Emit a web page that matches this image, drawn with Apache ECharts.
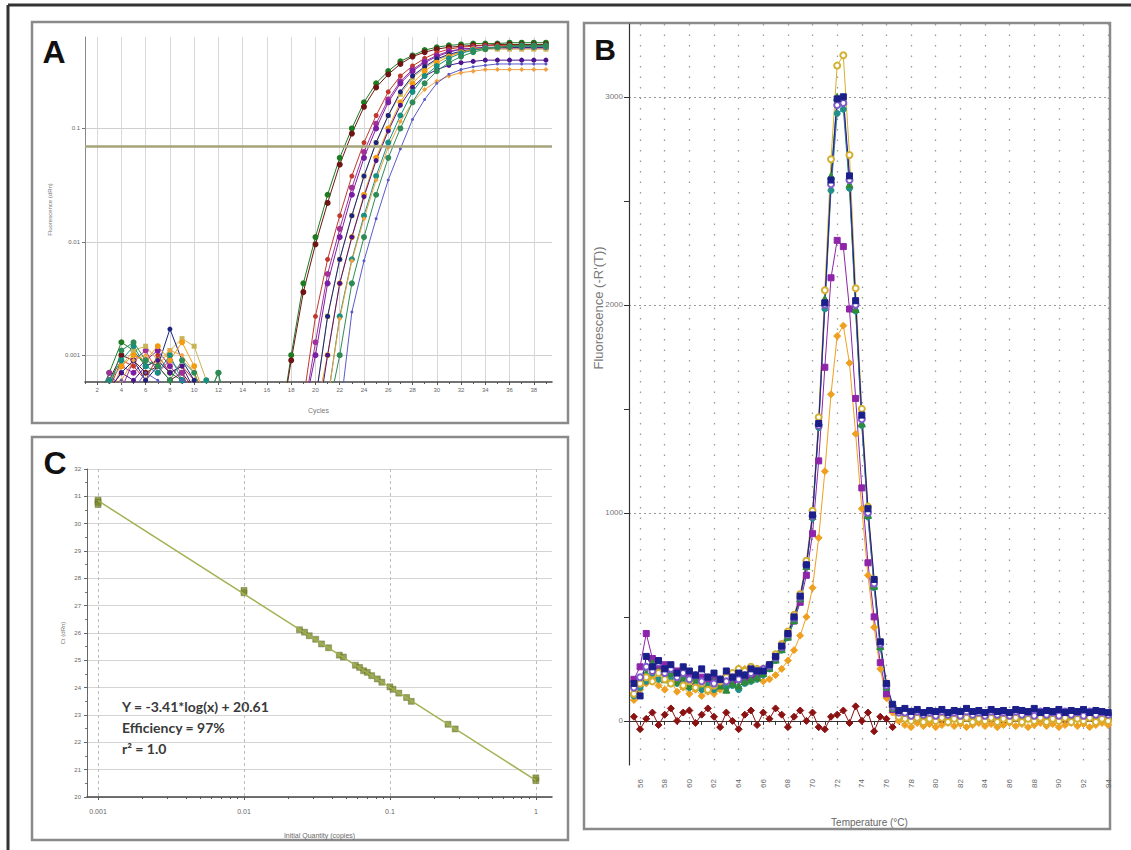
<!DOCTYPE html>
<html>
<head>
<meta charset="utf-8">
<title>qPCR amplification, melt and standard curves</title>
<script src="https://cdn.jsdelivr.net/npm/echarts@6/dist/echarts.min.js"></script>
<style>
html, body { margin: 0; padding: 0; background: #fff; }
#main { width: 1131px; height: 850px; }
</style>
</head>
<body>
<div id="main"></div>
<script>
// ---------- A: amplification plot (fluorescence dRn per cycle) ----------
var cycles = [1,2,3,4,5,6,7,8,9,10,11,12,13,14,15,16,17,18,19,20,21,22,23,24,25,26,27,28,29,30,31,32,33,34,35,36,37,38,39];
var cycleLabels = [2,4,6,8,10,12,14,16,18,20,22,24,26,28,30,32,34,36,38];
var threshold = 0.074;

var ampGreen = [0.0003,0.0004,0.0007,0.0013,0.0011,0.0008,0.0009,0.0007,0.0006,0.0005,0.0004,0.0007,0.0002,0.0002,0.0002,0.0002,0.0002,
  0.001,0.0043,0.011,0.026,0.055,0.1,0.17,0.25,0.32,0.39,0.44,0.49,0.52,0.54,0.55,0.56,0.56,0.56,0.57,0.57,0.57,0.57];
var ampMaroon = [0.0003,0.0003,0.0006,0.001,0.0009,0.0007,0.0008,0.0006,0.0007,0.0005,0.0003,0.0002,0.0002,0.0002,0.0002,0.0002,0.0002,
  0.0009,0.0036,0.0095,0.022,0.048,0.09,0.155,0.23,0.3,0.37,0.43,0.47,0.5,0.52,0.53,0.54,0.54,0.55,0.55,0.55,0.55,0.55];
var ampRed = [0.0002,0.0003,0.0005,0.0009,0.0008,0.0006,0.001,0.0007,0.0008,0.0006,0.0002,0.0002,0.0002,0.0002,0.0002,0.0002,0.0002,0.0002,
  0.0004,0.0022,0.007,0.017,0.038,0.075,0.13,0.21,0.29,0.355,0.415,0.465,0.5,0.52,0.53,0.54,0.54,0.54,0.54,0.54,0.54];
var ampPurple = [0.0003,0.0004,0.0006,0.0008,0.0007,0.0009,0.0011,0.0008,0.0006,0.0005,0.0003,0.0002,0.0002,0.0002,0.0002,0.0002,0.0002,0.0002,0.0003,
  0.001,0.0043,0.011,0.026,0.055,0.1,0.17,0.25,0.32,0.38,0.43,0.47,0.5,0.51,0.52,0.52,0.52,0.52,0.52,0.52];
var ampNavy = [0.0002,0.0003,0.0005,0.0007,0.0009,0.0006,0.0008,0.0017,0.0009,0.0006,0.0005,0.0002,0.0002,0.0002,0.0002,0.0002,0.0002,0.0002,0.0002,
  0.0004,0.0022,0.007,0.017,0.038,0.075,0.13,0.21,0.29,0.35,0.41,0.45,0.48,0.5,0.51,0.52,0.52,0.52,0.52,0.52];
var ampOrange = [0.0003,0.0003,0.0004,0.0008,0.001,0.0009,0.0012,0.0009,0.0013,0.0008,0.0004,0.0002,0.0002,0.0002,0.0002,0.0002,0.0002,0.0002,0.0002,0.0003,
  0.001,0.0043,0.011,0.026,0.055,0.1,0.17,0.25,0.32,0.38,0.43,0.47,0.5,0.51,0.52,0.53,0.53,0.53,0.53];
var ampTeal = [0.0002,0.0003,0.0006,0.0009,0.0012,0.0008,0.0007,0.001,0.0006,0.0005,0.0006,0.0002,0.0002,0.0002,0.0002,0.0002,0.0002,0.0002,0.0002,0.0002,
  0.0004,0.0022,0.007,0.017,0.038,0.075,0.13,0.21,0.29,0.355,0.415,0.46,0.49,0.51,0.52,0.53,0.53,0.53,0.53];
var ampGreen2 = [0.0003,0.0004,0.0005,0.0011,0.0013,0.0009,0.0008,0.0006,0.0009,0.0007,0.0004,0.0007,0.0002,0.0002,0.0002,0.0002,0.0002,0.0002,0.0002,0.0002,0.0003,
  0.001,0.0043,0.011,0.026,0.055,0.1,0.17,0.25,0.32,0.38,0.43,0.47,0.5,0.52,0.53,0.54,0.54,0.54];
var ampKhaki = [0.0003,0.0003,0.0006,0.0008,0.0011,0.0012,0.0009,0.0011,0.0014,0.0012,0.0006,0.0002,0.0002,0.0002,0.0002,0.0002,0.0002,0.0002,0.0002,
  0.0004,0.0022,0.007,0.017,0.038,0.075,0.13,0.2,0.28,0.34,0.4,0.44,0.47,0.49,0.5,0.5,0.5,0.5,0.5,0.5];
var ampDarkPurple = [0.0002,0.0003,0.0005,0.0007,0.0006,0.0008,0.0009,0.0007,0.0008,0.0005,0.0003,0.0002,0.0002,0.0002,0.0002,0.0002,0.0002,0.0002,0.0002,0.0002,
  0.001,0.0043,0.011,0.025,0.052,0.095,0.16,0.23,0.29,0.33,0.36,0.38,0.39,0.4,0.4,0.4,0.4,0.4,0.4];
var ampLtOrange = [0.0003,0.0003,0.0004,0.0006,0.0009,0.001,0.0008,0.0011,0.001,0.0007,0.0003,0.0002,0.0002,0.0002,0.0002,0.0002,0.0002,0.0002,0.0002,0.0002,
  0.0004,0.0021,0.0068,0.016,0.035,0.068,0.115,0.17,0.22,0.26,0.29,0.31,0.32,0.33,0.33,0.33,0.33,0.33,0.33];
var ampViolet = [0.0002,0.0002,0.0004,0.0006,0.0005,0.0007,0.0006,0.0005,0.0006,0.0004,0.0002,0.0002,0.0002,0.0002,0.0002,0.0002,0.0002,0.0002,0.0002,0.0002,0.0002,
  0.0003,0.0024,0.0068,0.016,0.035,0.066,0.12,0.18,0.25,0.3,0.33,0.35,0.36,0.37,0.37,0.37,0.37,0.37];
var ampMagenta = [0.0003,0.0003,0.0007,0.0005,0.0009,0.0011,0.0007,0.0009,0.0007,0.0004,0.0002,0.0002,0.0002,0.0002,0.0002,0.0002,0.0002,0.0002,0.0003,
  0.0013,0.0052,0.013,0.03,0.062,0.11,0.18,0.26,0.33,0.39,0.44,0.48,0.5,0.51,0.51,0.51,0.51,0.51,0.51,0.51];

// ---------- C: standard curve ----------
var qtyLabels = [0.001, 0.01, 0.1, 1];
var stdQty = [0.001,0.001,0.001,0.01,0.01,0.024,0.026,0.028,0.031,0.034,0.038,0.045,0.048,0.058,0.062,
  0.066,0.07,0.075,0.082,0.088,0.1,0.105,0.115,0.13,0.14,0.25,0.28,1,1];
var stdCt = [30.86,30.78,30.7,27.47,27.56,26.12,26.03,25.9,25.77,25.6,25.46,25.19,25.12,24.82,24.74,
  24.62,24.56,24.44,24.32,24.2,24.03,23.94,23.8,23.64,23.5,22.66,22.49,20.6,20.7];
var fitQty = [0.001, 1];
var fitCt = [30.84, 20.61];

// ---------- B: melt curve (-R'(T)) ----------
var tempLabels = [56,58,60,62,64,66,68,70,72,74,76,78,80,82,84,86,88,90,92,94];
var meltLabels = [0, 1000, 2000, 3000];
var temps = [55.5,56,56.5,57,57.5,58,58.5,59,59.5,60,60.5,61,61.5,62,62.5,63,63.5,64,64.5,65,65.5,66,
  66.5,67,67.5,68,68.5,69,69.5,70,70.5,71,71.5,72,72.5,73,73.5,74,74.5,75,75.5,76,76.5,77,
  77.5,78,78.5,79,79.5,80,80.5,81,81.5,82,82.5,83,83.5,84,84.5,85,85.5,86,86.5,87,87.5,88,88.5,89,89.5,90,90.5,91,91.5,92,92.5,93,93.5,94];

var meltNtc = [20,-40,10,40,-20,30,60,0,40,50,-10,30,60,20,-30,40,0,-40,30,50,-20,40,
  10,60,30,-30,20,50,0,40,-30,-40,20,30,50,-10,70,0,40,-50,20,10,-30,30,
  10,20,0,15,5,20,0,10,15,5,20,0,10,15,5,20,0,10,15,5,20,0,10,15,5,20,0,10,15,5,20,0,10,5];
var meltOrange = [100,150,180,210,170,150,190,140,160,130,150,120,140,130,150,170,180,210,250,260,220,190,
  200,220,250,290,340,410,500,640,880,1200,1570,1850,1900,1720,1380,1020,700,450,250,110,40,0,
  -20,-30,-10,-25,-15,-30,-20,-10,-25,-15,-30,-20,-10,-25,-15,-30,-20,-10,-25,-15,-30,-20,-10,-25,-15,-30,-20,-10,-25,-15,-30,-20,-10,-20];
var meltPurple = [200,260,420,300,250,270,220,240,200,230,190,210,180,200,170,210,180,200,190,210,220,240,
  260,300,350,410,480,570,700,900,1250,1700,2130,2310,2280,1980,1550,1120,760,500,280,130,55,25,
  20,30,15,25,20,30,15,25,20,30,15,25,20,30,15,25,20,30,15,25,20,30,15,25,20,30,15,25,20,30,15,25,20,25];
var meltTeal = [120,160,190,230,200,250,210,180,200,160,190,150,170,150,180,160,170,150,180,190,200,220,
  250,290,340,400,480,585,740,975,1410,1980,2550,2920,2940,2560,1970,1420,980,640,350,160,60,25,
  15,10,20,5,15,10,20,5,15,10,20,10,15,5,20,10,15,5,20,10,15,5,20,10,15,5,20,10,15,5,20,10,15,10];
var meltGreen = [140,200,230,280,240,200,230,190,210,170,200,180,160,190,170,150,180,170,190,200,210,230,
  255,295,345,405,485,590,745,985,1440,2030,2620,3000,2980,2580,1980,1430,990,650,360,165,65,30,
  30,20,35,25,30,20,35,25,30,20,30,25,35,20,30,25,30,20,35,25,30,20,35,25,30,20,30,25,35,20,30,25,30,20];
var meltYellow = [130,180,210,190,230,200,180,210,170,190,160,180,150,170,190,210,230,250,240,260,250,250,
  270,320,370,430,510,610,770,1010,1460,2070,2700,3150,3200,2720,2080,1500,1030,680,380,180,70,20,
  10,0,15,-5,10,0,15,-5,10,0,15,-5,10,0,15,-5,10,0,15,-5,10,0,15,-5,10,0,15,-5,10,0,15,-5,10,0];
var meltViolet = [160,210,260,240,280,230,250,210,230,200,220,190,210,180,200,190,210,200,220,230,240,250,
  265,305,355,415,495,595,750,985,1420,2000,2580,2960,2970,2600,2000,1450,1000,660,370,170,70,40,
  40,25,45,30,40,25,45,30,40,25,45,30,40,25,45,30,40,25,45,30,40,25,45,30,40,25,45,30,40,25,45,30,40,30];
var meltNavy = [180,120,310,260,290,250,270,230,260,240,220,250,210,230,200,240,210,230,220,250,240,240,
  270,310,360,420,500,600,750,990,1430,2010,2600,2990,3000,2620,2020,1470,1020,680,380,180,80,50,
  60,45,55,40,50,45,55,40,50,45,60,45,50,40,55,45,50,40,55,50,45,60,40,50,45,55,40,50,45,55,40,50,45,40];

// minor tick positions
var oddCycles = [];
for (var c = 1; c <= 39; c += 2) oddCycles.push(c);
var oddTemps = [];
for (var t = 57; t <= 93; t += 2) oddTemps.push(t);
var qtyMinor = [];
[0.001, 0.01, 0.1].forEach(function (d) {
  for (var k = 2; k <= 9; k++) qtyMinor.push(+(d * k).toPrecision(2));
});

function pairs(xs, ys) {
  return xs.map(function (x, i) { return [x, ys[i]]; });
}

var chart = echarts.init(document.getElementById('main'), null, { renderer: 'svg' });

var small = { fontSize: 6, color: '#666', fontFamily: 'Liberation Sans' };
var plain = function (v) { return String(v); };

var ampStyles = [
  [ampGreen, '#1e7b22', 'circle', 6],
  [ampMaroon, '#6e1414', 'circle', 6],
  [ampRed, '#c0392b', 'circle', 5],
  [ampMagenta, '#a0309a', 'circle', 6],
  [ampPurple, '#7b1fa2', 'circle', 6],
  [ampKhaki, '#c9b458', 'rect', 5],
  [ampNavy, '#1a237e', 'circle', 5],
  [ampOrange, '#f39c12', 'circle', 6],
  [ampDarkPurple, '#4a148c', 'circle', 5],
  [ampTeal, '#168f80', 'circle', 6],
  [ampLtOrange, '#f0a040', 'diamond', 5],
  [ampGreen2, '#2e8b57', 'circle', 6],
  [ampViolet, '#5a5ac8', 'circle', 3]
];

var meltStyles = [
  [meltNtc, '#8b1212', 'diamond', 7],
  [meltOrange, '#f0a020', 'diamond', 7],
  [meltPurple, '#8e24aa', 'rect', 6],
  [meltTeal, '#21908d', 'circle', 6],
  [meltGreen, '#2e8b3a', 'triangle', 7],
  [meltYellow, '#d4b030', 'emptyCircle', 6],
  [meltViolet, '#7d5bc8', 'emptyCircle', 6],
  [meltNavy, '#1b1f8a', 'rect', 6]
];

var series = [];
ampStyles.forEach(function (s, i) {
  series.push({
    type: 'line', xAxisIndex: 0, yAxisIndex: 0,
    data: pairs(cycles, s[0]),
    symbol: s[2], symbolSize: s[3], showAllSymbol: true,
    lineStyle: { color: s[1], width: 1 },
    itemStyle: { color: s[1] },
    markLine: i === 0 ? {
      silent: true, symbol: 'none', label: { show: false },
      lineStyle: { color: '#a5a47a', width: 2.5, type: 'solid' },
      data: [{ yAxis: threshold }]
    } : undefined
  });
});

series.push({
  type: 'line', xAxisIndex: 1, yAxisIndex: 1,
  data: pairs(fitQty, fitCt),
  symbol: 'none', lineStyle: { color: '#a3b152', width: 1.5 }
});
series.push({
  type: 'scatter', xAxisIndex: 1, yAxisIndex: 1,
  data: pairs(stdQty, stdCt),
  symbol: 'rect', symbolSize: 6,
  itemStyle: { color: '#7d8a2c', borderColor: '#5b6620', borderWidth: 0.5 }
});

meltStyles.forEach(function (s) {
  series.push({
    type: 'line', xAxisIndex: 2, yAxisIndex: 2,
    data: pairs(temps, s[0]),
    symbol: s[2], symbolSize: s[3], showAllSymbol: true,
    lineStyle: { color: s[1], width: 1 },
    itemStyle: { color: s[1], borderColor: s[1] }
  });
});

var option = {
  animation: false,
  backgroundColor: '#ffffff',
  textStyle: { fontFamily: 'Liberation Sans' },
  grid: [
    { left: 85, top: 37, width: 467, height: 345 },
    { left: 87, top: 469, width: 465, height: 328 },
    { left: 629, top: 24, width: 481, height: 741 }
  ],
  xAxis: [
    {
      gridIndex: 0, type: 'value', position: 'bottom', min: 1, max: 39.5,
      name: 'Cycles', nameLocation: 'middle', nameGap: 25,
      nameTextStyle: { fontSize: 7, color: '#777' },
      axisLine: { lineStyle: { color: '#444', width: 1.5 } },
      axisTick: { customValues: cycleLabels, length: 3, lineStyle: { color: '#555' } },
      axisLabel: Object.assign({ customValues: cycleLabels, margin: 5, formatter: plain }, small),
      splitLine: { show: true, lineStyle: { color: '#d8d8d8', width: 1 } }
    },
    {
      gridIndex: 1, type: 'log', position: 'bottom', min: 0.00084, max: 1.29,
      name: 'Initial Quantity (copies)', nameLocation: 'middle', nameGap: 35,
      nameTextStyle: { fontSize: 7, color: '#6a6a6a', fontWeight: 'normal' },
      axisLine: { lineStyle: { color: '#444', width: 1.5 } },
      axisTick: { customValues: qtyLabels, length: 3, lineStyle: { color: '#555' } },
      axisLabel: Object.assign({ customValues: qtyLabels, margin: 11, formatter: plain }, small, { fontSize: 7 }),
      splitLine: { show: true, lineStyle: { color: '#bdbdbd', width: 1, type: [3, 3] } }
    },
    {
      gridIndex: 2, type: 'value', position: 'bottom', min: 55.1, max: 94.15,
      name: 'Temperature (°C)', nameLocation: 'middle', nameGap: 52,
      nameTextStyle: { fontSize: 10, color: '#666' },
      axisLine: { lineStyle: { color: '#333', width: 1.2 } },
      axisTick: { customValues: tempLabels, length: 4, inside: false, lineStyle: { color: '#333' } },
      axisLabel: { customValues: tempLabels, rotate: 90, margin: 14, fontSize: 8, color: '#666', formatter: plain },
      splitLine: { show: true, lineStyle: { color: '#9a9a9a', width: 1.3, type: [1.5, 9] } }
    },
    {
      gridIndex: 2, type: 'value', position: 'bottom', min: 55.1, max: 94.15,
      axisLine: { show: false },
      axisTick: { customValues: oddTemps, length: 4, lineStyle: { color: '#333' } },
      axisLabel: { show: false },
      splitLine: { show: false }
    },
    {
      gridIndex: 0, type: 'value', position: 'bottom', min: 1, max: 39.5,
      axisLine: { show: false },
      axisTick: { customValues: oddCycles, length: 2, lineStyle: { color: '#555' } },
      axisLabel: { show: false },
      splitLine: { show: false }
    },
    {
      gridIndex: 1, type: 'log', position: 'bottom', min: 0.00084, max: 1.29,
      axisLine: { show: false },
      axisTick: { customValues: qtyMinor, length: 2, lineStyle: { color: '#555' } },
      axisLabel: { show: false },
      splitLine: { show: false }
    }
  ],
  yAxis: [
    {
      gridIndex: 0, type: 'log', position: 'left', min: 0.00058, max: 0.64,
      name: 'Fluorescence (dRn)', nameLocation: 'middle', nameGap: 32,
      nameTextStyle: { fontSize: 6, color: '#777' },
      axisLine: { show: true, lineStyle: { color: '#888', width: 1 } },
      axisTick: { customValues: [0.001, 0.01, 0.1], length: 3, lineStyle: { color: '#777' } },
      axisLabel: Object.assign({ customValues: [0.001, 0.01, 0.1], margin: 5, formatter: plain }, small),
      splitLine: { show: true, lineStyle: { color: '#cfcfcf', width: 1 } }
    },
    {
      gridIndex: 1, type: 'value', position: 'left', min: 20, max: 32, interval: 1,
      name: 'Ct (dRn)', nameLocation: 'middle', nameGap: 21,
      nameTextStyle: { fontSize: 6, color: '#777' },
      axisLine: { show: true, lineStyle: { color: '#666', width: 1 } },
      axisTick: { length: 3, lineStyle: { color: '#666' } },
      minorTick: { show: true, splitNumber: 2, length: 2, lineStyle: { color: '#777' } },
      axisLabel: Object.assign({ margin: 6, formatter: plain }, small),
      splitLine: { show: true, lineStyle: { color: '#d4d4d4', width: 1 } }
    },
    {
      gridIndex: 2, type: 'value', position: 'left', min: -212, max: 3350,
      axisLine: { show: true, lineStyle: { color: '#333', width: 1.2 } },
      axisTick: { customValues: meltLabels, length: 5, lineStyle: { color: '#333' } },
      axisLabel: { customValues: meltLabels, margin: 6, fontSize: 8, color: '#777', formatter: plain },
      splitLine: { show: true, lineStyle: { color: '#9a9a9a', width: 1.2, type: [2, 3] } }
    },
    {
      gridIndex: 2, type: 'value', position: 'left', min: -212, max: 3350,
      axisLine: { show: false },
      axisTick: { customValues: [500, 1500, 2500], length: 5, lineStyle: { color: '#333' } },
      axisLabel: { show: false },
      splitLine: { show: false }
    }
  ],
  graphic: [
    { type: 'line', shape: { x1: 8, y1: 5, x2: 1131, y2: 5 }, style: { stroke: '#333', lineWidth: 3 } },
    { type: 'line', shape: { x1: 8, y1: 5, x2: 8, y2: 850 }, style: { stroke: '#333', lineWidth: 3 } },
    { type: 'rect', shape: { x: 32, y: 22, width: 536, height: 401 }, style: { fill: 'none', stroke: '#8a8a8a', lineWidth: 2.5 } },
    { type: 'rect', shape: { x: 32, y: 437, width: 536, height: 403 }, style: { fill: 'none', stroke: '#8a8a8a', lineWidth: 2.5 } },
    { type: 'rect', shape: { x: 584, y: 23, width: 526, height: 806 }, style: { fill: 'none', stroke: '#8a8a8a', lineWidth: 2.5 } },
    { type: 'text', x: 54, y: 52, style: { text: 'A', fill: '#111', font: 'bold 32px "Liberation Sans"', align: 'center', verticalAlign: 'middle', textAlign: 'center', textVerticalAlign: 'middle' } },
    { type: 'text', x: 605, y: 49, style: { text: 'B', fill: '#111', font: 'bold 30px "Liberation Sans"', align: 'center', verticalAlign: 'middle', textAlign: 'center', textVerticalAlign: 'middle' } },
    { type: 'text', x: 55, y: 463, style: { text: 'C', fill: '#111', font: 'bold 32px "Liberation Sans"', align: 'center', verticalAlign: 'middle', textAlign: 'center', textVerticalAlign: 'middle' } },
    { type: 'text', x: 598, y: 308, rotation: Math.PI / 2, style: { text: "Fluorescence (-R'(T))", fill: '#7a7a7a', font: '13px "Liberation Sans"', align: 'center', verticalAlign: 'middle', textAlign: 'center', textVerticalAlign: 'middle' } },
    { type: 'text', x: 122, y: 706, style: { text: 'Y = -3.41*log(x) + 20.61', fill: '#3a3a3a', font: 'bold 14px Lato', verticalAlign: 'middle', textVerticalAlign: 'middle' } },
    { type: 'text', x: 122, y: 727, style: { text: 'Efficiency = 97%', fill: '#3a3a3a', font: 'bold 14px Lato', verticalAlign: 'middle', textVerticalAlign: 'middle' } },
    { type: 'text', x: 122, y: 748, style: { text: 'r² = 1.0', fill: '#3a3a3a', font: 'bold 14px Lato', verticalAlign: 'middle', textVerticalAlign: 'middle' } }
  ],
  series: series
};

chart.setOption(option);
</script>
</body>
</html>
